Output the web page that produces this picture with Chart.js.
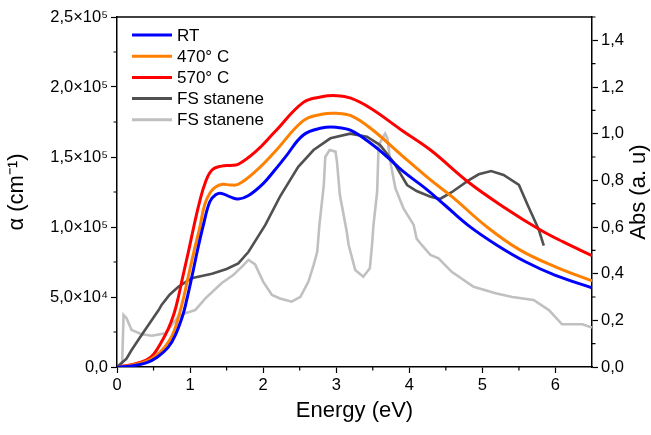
<!DOCTYPE html>
<html>
<head>
<meta charset="utf-8">
<script src="https://cdn.jsdelivr.net/npm/chart.js@4.4.0/dist/chart.umd.min.js"></script>
<style>
    html, body { margin: 0; padding: 0; background: #fff; }
    #wrap { width: 651px; height: 435px; position: relative; }
</style>
</head>
<body>
<div id="wrap"><canvas id="chartAbsorcion"></canvas></div>
<script>
// Coeficiente de absorción (eje izquierdo, cm^-1)
const energiaRT = [0, 0.2, 0.4, 0.55, 0.7, 0.8, 0.9, 0.95, 1.03, 1.1, 1.18, 1.27, 1.35, 1.43, 1.55, 1.66, 1.8, 2.0, 2.16, 2.3, 2.55, 2.8, 3.0, 3.2, 3.47, 3.7, 3.92, 4.22, 4.5, 4.81, 5.2, 5.59, 6.0, 6.5];
const alphaRT = [0, 800, 3000, 7000, 14000, 23000, 37000, 47000, 65700, 83000, 101000, 118000, 123000, 124000, 121500, 120000, 122500, 131000, 140700, 149700, 165700, 170700, 171200, 169000, 159800, 150000, 139500, 127600, 115000, 101000, 87000, 75200, 65500, 56600];

const energia470 = [0, 0.2, 0.4, 0.52, 0.65, 0.75, 0.81, 0.9, 0.98, 1.06, 1.13, 1.2, 1.28, 1.36, 1.45, 1.55, 1.66, 1.9, 2.16, 2.55, 2.8, 3.0, 3.2, 3.47, 3.9, 4.29, 4.6, 5.04, 5.5, 6.0, 6.5];
const alpha470 = [0, 1200, 4000, 7500, 14000, 22000, 30000, 47000, 65700, 84000, 99000, 116000, 125000, 129000, 130500, 130000, 130500, 140000, 153800, 176000, 180500, 181200, 179500, 170500, 151000, 133600, 121000, 101000, 84000, 71500, 61500];

const energia570 = [0, 0.2, 0.4, 0.5, 0.61, 0.7, 0.78, 0.84, 0.9, 0.98, 1.05, 1.13, 1.21, 1.3, 1.43, 1.55, 1.66, 1.9, 2.16, 2.55, 2.8, 3.0, 3.2, 3.47, 3.9, 4.29, 4.81, 5.3, 5.77, 6.1, 6.5];
const alpha570 = [0, 1600, 5000, 9000, 18000, 27000, 38000, 50000, 64500, 83000, 100000, 118000, 132000, 140700, 143500, 144000, 144800, 154000, 168000, 189000, 193000, 193800, 192000, 184800, 169000, 155000, 132000, 114000, 98600, 89500, 79500];

// Absorbancia FS stanene (eje derecho, a. u)
const energiaFS1 = [0, 0.13, 0.2, 0.3, 0.43, 0.57, 0.61, 0.72, 0.84, 1.02, 1.3, 1.5, 1.66, 1.8, 2.03, 2.23, 2.48, 2.69, 2.92, 3.19, 3.42, 3.6, 3.78, 3.97, 4.1, 4.29, 4.42, 4.58, 4.81, 4.95, 5.12, 5.29, 5.5, 5.63, 5.77, 5.84];
const absFS1 = [0, 0.036, 0.073, 0.12, 0.18, 0.244, 0.266, 0.31, 0.344, 0.38, 0.40, 0.42, 0.444, 0.494, 0.609, 0.73, 0.858, 0.93, 0.98, 1.0, 0.987, 0.951, 0.88, 0.78, 0.754, 0.73, 0.72, 0.749, 0.80, 0.826, 0.84, 0.823, 0.78, 0.687, 0.59, 0.52];

const energiaFS2 = [0.07, 0.09, 0.13, 0.2, 0.34, 0.48, 0.66, 0.84, 0.93, 1.07, 1.21, 1.43, 1.59, 1.71, 1.8, 1.89, 2.0, 2.12, 2.23, 2.39, 2.51, 2.62, 2.69, 2.74, 2.77, 2.83, 2.85, 2.91, 2.99, 3.01, 3.05, 3.14, 3.17, 3.26, 3.37, 3.46, 3.49, 3.51, 3.56, 3.58, 3.67, 3.7, 3.74, 3.81, 3.92, 4.06, 4.1, 4.17, 4.29, 4.4, 4.58, 4.88, 5.18, 5.41, 5.7, 5.91, 6.09, 6.37, 6.5];
const absFS2 = [0.01, 0.223, 0.209, 0.159, 0.14, 0.134, 0.144, 0.216, 0.23, 0.244, 0.294, 0.359, 0.394, 0.43, 0.459, 0.44, 0.366, 0.309, 0.294, 0.28, 0.301, 0.366, 0.437, 0.494, 0.609, 0.78, 0.9, 0.93, 0.923, 0.88, 0.737, 0.587, 0.523, 0.416, 0.387, 0.423, 0.523, 0.609, 0.751, 0.951, 1.0, 0.98, 0.88, 0.766, 0.68, 0.609, 0.55, 0.523, 0.48, 0.466, 0.408, 0.344, 0.316, 0.30, 0.287, 0.244, 0.183, 0.183, 0.169];

const etiquetas = ['RT', '470° C', '570° C', 'FS stanene', 'FS stanene'];
const colores = ['#0000ff', '#ff8000', '#ff0000', '#505050', '#c0c0c0'];

const fuente = '"Liberation Sans", Arial, sans-serif';

function puntos(xs, ys) {
    return xs.map((x, i) => ({ x, y: ys[i] }));
}

const SUP = { '0': '⁰', '1': '¹', '2': '²', '3': '³', '4': '⁴', '5': '⁵', '6': '⁶', '7': '⁷', '8': '⁸', '9': '⁹' };

function etiquetaCientifica(v) {
    if (v === 0) return '0,0';
    const exp = Math.floor(Math.log10(v) + 1e-9);
    const man = (v / Math.pow(10, exp)).toFixed(1).replace('.', ',');
    return man + '×10' + String(exp).split('').map(d => SUP[d]).join('');
}

// ticks menores, marco superior, título derecho y leyenda
const decoracion = {
    id: 'decoracion',
    afterDraw(chart) {
        const { ctx, chartArea: a, scales } = chart;
        ctx.save();
        ctx.strokeStyle = '#000';
        ctx.lineWidth = 1.5;
        ctx.beginPath();
        ctx.moveTo(a.left, a.top);
        ctx.lineTo(a.right, a.top);
        ctx.stroke();

        ctx.lineWidth = 1.2;
        ctx.beginPath();
        for (let v = 0.5; v < 6.5; v += 1) {
            const px = scales.x.getPixelForValue(v);
            ctx.moveTo(px, a.bottom);
            ctx.lineTo(px, a.bottom + 3.5);
        }
        for (let v = 25000; v < 250000; v += 50000) {
            const py = scales.y.getPixelForValue(v);
            ctx.moveTo(a.left, py);
            ctx.lineTo(a.left - 3.5, py);
        }
        for (let v = 0.1; v < 1.5; v += 0.2) {
            const py = scales.y1.getPixelForValue(v);
            ctx.moveTo(a.right, py);
            ctx.lineTo(a.right + 3.5, py);
        }
        ctx.stroke();

        ctx.fillStyle = '#000';
        ctx.font = '22px ' + fuente;
        ctx.textAlign = 'center';
        ctx.textBaseline = 'middle';
        ctx.translate(639, (a.top + a.bottom) / 2);
        ctx.rotate(-Math.PI / 2);
        ctx.fillText('Abs (a. u)', 0, 0);
        ctx.restore();

        ctx.save();
        ctx.font = '17px ' + fuente;
        ctx.textBaseline = 'middle';
        chart.data.datasets.forEach((ds, i) => {
            const y = 35 + i * 21.2;
            ctx.strokeStyle = ds.borderColor;
            ctx.lineWidth = 3;
            ctx.beginPath();
            ctx.moveTo(132, y);
            ctx.lineTo(172, y);
            ctx.stroke();
            ctx.fillStyle = '#000';
            ctx.fillText(ds.label, 177, y + 1);
        });
        ctx.restore();
    }
};

const canvas = document.getElementById('chartAbsorcion');

window.chartAbsorcion = new Chart(canvas, {
    type: 'line',
    data: {
        datasets: [
            { label: etiquetas[0], data: puntos(energiaRT, alphaRT), borderColor: colores[0], yAxisID: 'y', borderWidth: 3, tension: 0.4 },
            { label: etiquetas[1], data: puntos(energia470, alpha470), borderColor: colores[1], yAxisID: 'y', borderWidth: 3, tension: 0.4 },
            { label: etiquetas[2], data: puntos(energia570, alpha570), borderColor: colores[2], yAxisID: 'y', borderWidth: 3, tension: 0.4 },
            { label: etiquetas[3], data: puntos(energiaFS1, absFS1), borderColor: colores[3], yAxisID: 'y1', borderWidth: 2.6, tension: 0 },
            { label: etiquetas[4], data: puntos(energiaFS2, absFS2), borderColor: colores[4], yAxisID: 'y1', borderWidth: 2.6, tension: 0 }
        ]
    },
    plugins: [decoracion],
    options: {
        responsive: true,
        maintainAspectRatio: false,
        animation: false,
        layout: { padding: { top: 17, left: 0, right: 0, bottom: 0 } },
        elements: { point: { radius: 0 } },
        plugins: {
            legend: { display: false },
            tooltip: { enabled: false }
        },
        scales: {
            x: {
                type: 'linear',
                min: 0,
                max: 6.5,
                afterFit: s => { s.height = 68; },
                border: { color: '#000', width: 1.5 },
                grid: { drawOnChartArea: false, tickLength: 6, tickColor: '#000', tickWidth: 1.2 },
                ticks: {
                    stepSize: 1,
                    includeBounds: false,
                    color: '#000',
                    padding: 3,
                    font: { family: fuente, size: 16.5 },
                    callback: v => String(v)
                },
                title: {
                    display: true,
                    text: 'Energy (eV)',
                    color: '#000',
                    font: { family: fuente, size: 22 },
                    padding: { top: 0, bottom: 11 }
                }
            },
            y: {
                position: 'left',
                min: 0,
                max: 250000,
                afterFit: s => { s.width = 117; },
                border: { color: '#000', width: 1.5 },
                grid: { drawOnChartArea: false, tickLength: 6, tickColor: '#000', tickWidth: 1.2 },
                ticks: {
                    stepSize: 50000,
                    color: '#000',
                    padding: 3,
                    font: { family: fuente, size: 16.5 },
                    callback: v => etiquetaCientifica(v)
                },
                title: {
                    display: true,
                    text: 'α (cm⁻¹)',
                    color: '#000',
                    font: { family: fuente, size: 22 },
                    padding: { top: 4, bottom: 0 }
                }
            },
            y1: {
                position: 'right',
                min: 0,
                max: 1.5,
                afterFit: s => { s.width = 59; },
                border: { color: '#000', width: 1.5 },
                grid: { drawOnChartArea: false, tickLength: 6, tickColor: '#000', tickWidth: 1.2 },
                ticks: {
                    stepSize: 0.2,
                    includeBounds: false,
                    color: '#000',
                    padding: 3,
                    font: { family: fuente, size: 16.5 },
                    callback: v => v.toFixed(1).replace('.', ',')
                }
            }
        }
    }
});
</script>
</body>
</html>
